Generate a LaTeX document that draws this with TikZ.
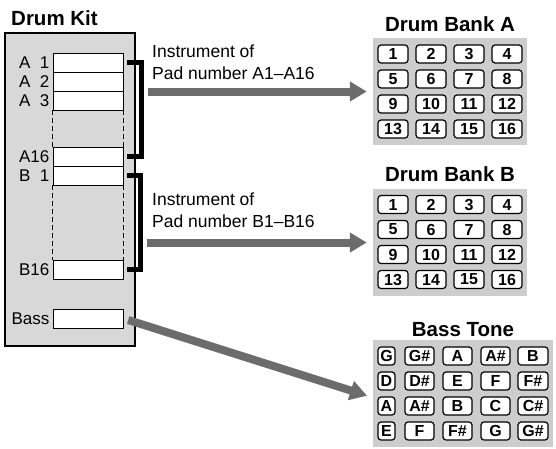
\documentclass[tikz,border=0pt]{standalone}
\usepackage{fontspec}
\setmainfont{Liberation Sans}
\usepackage{tikz}
\usetikzlibrary{arrows.meta,positioning,calc}
\usepackage{xcolor}
\definecolor{kitgray}{RGB}{216,216,216}
\definecolor{bankgray}{RGB}{205,205,205}
\definecolor{arrowgray}{RGB}{108,108,108}
\tikzstyle{arrow} = [line width=8pt,-{Triangle[length=17pt,width=19pt]},color=arrowgray]
\tikzstyle{slot} = [rectangle, draw=black, fill=white, line width=0.9pt, minimum width=70pt, minimum height=19pt, inner sep=0pt]
\tikzstyle{slotlabel} = [inner sep=1pt, font=\fontsize{17}{17}\selectfont]
\tikzstyle{dashes} = [line width=0.9pt, dash pattern=on 5pt off 3pt]
\tikzstyle{bracket} = [line width=4.5pt, color=black]
\tikzstyle{bank} = [rectangle, fill=bankgray, minimum width=154pt, minimum height=107pt, inner sep=0pt]
\tikzstyle{pad} = [rectangle, rounded corners=3pt, draw=black, fill=white, line width=1.2pt, minimum width=30pt, minimum height=18pt, inner sep=0pt, font=\bfseries\fontsize{16}{16}\selectfont]
\tikzstyle{title} = [inner sep=0pt, font=\bfseries\fontsize{20.5}{20.5}\selectfont]
\tikzstyle{info} = [inner sep=0pt, align=left, font=\fontsize{17.5}{22}\selectfont]

\begin{document}
\begin{tikzpicture}[x=1pt, y=-1pt]
    \useasboundingbox (0,0) rectangle (556,448);

    % Drum kit
    \node[rectangle, draw=black, line width=2pt, fill=kitgray, minimum width=130pt, minimum height=313pt, inner sep=0pt] (kit) at (70,189.5) {};
    \node[title, anchor=base west] (kittitle) at (11,25) {Drum Kit};

    % Slots
    \node[slot] (a1) at (88,62.5) {};
    \node[slot] (a2) at (88,81.5) {};
    \node[slot] (a3) at (88,100.5) {};
    \node[slot] (a16) at (88,156.5) {};
    \node[slot] (b1) at (88,175.5) {};
    \node[slot] (b16) at (88,269.5) {};
    \node[slot] (bass) at (88,318.5) {};

    % Slot labels
    \node[slotlabel, left=2pt of a1] (a1label) {A\phantom{1}1};
    \node[slotlabel, left=2pt of a2] (a2label) {A\phantom{1}2};
    \node[slotlabel, left=2pt of a3] (a3label) {A\phantom{1}3};
    \node[slotlabel, left=2pt of a16] (a16label) {A16};
    \node[slotlabel, left=2pt of b1] (b1label) {B\phantom{1}1};
    \node[slotlabel, left=2pt of b16] (b16label) {B16};
    \node[slotlabel, left=2pt of bass] (basslabel) {Bass};

    % Skipped slots
    \draw[dashes] (a3.south west) -- (a16.north west);
    \draw[dashes] (a3.south east) -- (a16.north east);
    \draw[dashes] (b1.south west) -- (b16.north west);
    \draw[dashes] (b1.south east) -- (b16.north east);

    % Brackets
    \draw[bracket] ([xshift=4pt]a1.east) -- ++(14,0) |- ([xshift=4pt]a16.east);
    \draw[bracket] ([xshift=4pt]b1.east) -- ++(13,0) |- ([xshift=4pt]b16.east);

    % Banks
    \node[bank] (bankA) at (450,91.5) {};
    \node[bank] (bankB) at (450,242.5) {};
    \node[bank, minimum width=180pt] (bassTone) at (463,393.5) {};
    \node[title, above=6pt of bankA] (bankAtitle) {Drum Bank A};
    \node[title, above=7pt of bankB] (bankBtitle) {Drum Bank B};
    \node[title, above=3pt of bassTone] (bassTitle) {Bass Tone};

    % Pads
    \foreach \n in {1,...,16} {
        \pgfmathtruncatemacro\c{mod(\n-1,4)}
        \pgfmathtruncatemacro\r{div(\n-1,4)}
        \node[pad] (bankA-\n) at ({393+38*\c},{54+25*\r}) {\n};
        \node[pad] (bankB-\n) at ({393+38*\c},{204.5+25*\r}) {\n};
    }
    \foreach \y/\ka/\kb/\kc/\kd/\ke [count=\r] in {356/G/G\#/A/A\#/B, 381/D/D\#/E/F/F\#, 406/A/A\#/B/C/C\#, 431/E/F/F\#/G/G\#} {
        \node[pad, minimum width=17pt] (tone-\r-1) at (386.5,\y) {\ka};
        \node[pad, minimum width=29pt] (tone-\r-2) at (419.5,\y) {\kb};
        \node[pad, minimum width=29pt] (tone-\r-3) at (457.5,\y) {\kc};
        \node[pad, minimum width=29pt] (tone-\r-4) at (495.5,\y) {\kd};
        \node[pad, minimum width=30pt] (tone-\r-5) at (533,\y) {\ke};
    }

    % Arrows
    \coordinate (srcA) at (148,91.5);
    \coordinate (srcB) at (147,242.5);
    \draw[arrow, shorten >=6pt] (srcA) -- (bankA.west);
    \draw[arrow, shorten >=6pt] (srcB) -- (bankB.west);
    \draw[arrow, shorten <=5pt, shorten >=6pt] (bass.east) -- ([yshift=-4pt]bassTone.west);

    % Labels
    \node[info, anchor=north west] (infoA) at (152,45) {Instrument of\\Pad number A1–A16};
    \node[info, anchor=north west] (infoB) at (152,193) {Instrument of\\Pad number B1–B16};
\end{tikzpicture}
\end{document}
